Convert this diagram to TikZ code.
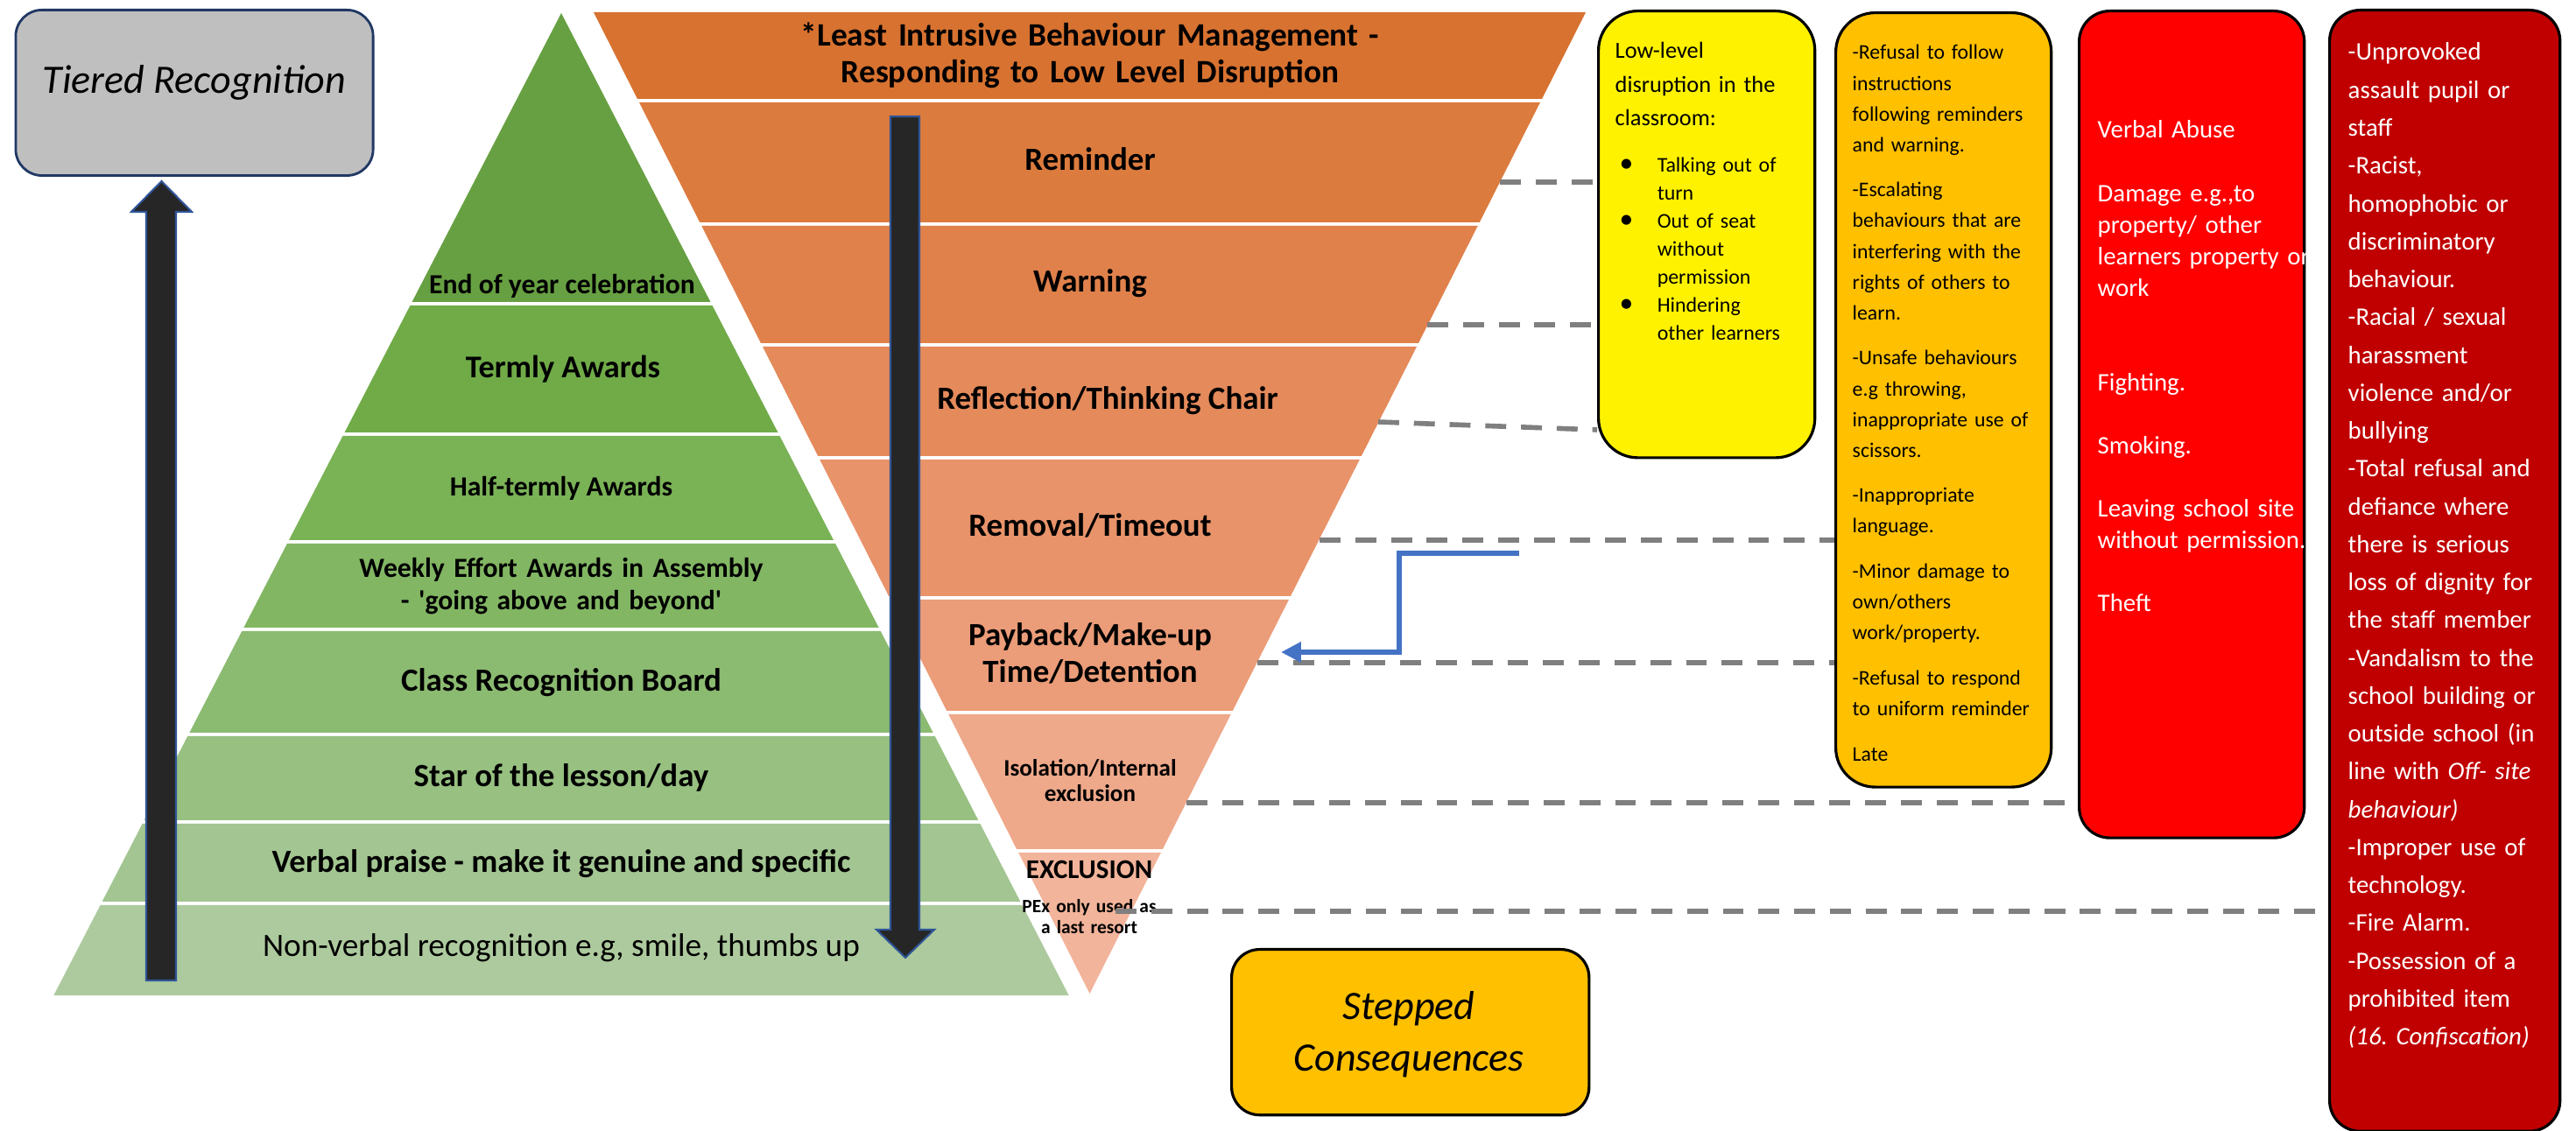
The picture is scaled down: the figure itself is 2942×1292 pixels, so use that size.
\documentclass[tikz,border=0pt]{standalone}
\usepackage{fontspec}
\setmainfont{Carlito}
\usetikzlibrary{arrows.meta}

% pyramid shades, darkest at the top
\definecolor{gA}{HTML}{67A042}
\definecolor{gB}{HTML}{70AB48}
\definecolor{gC}{HTML}{7AB256}
\definecolor{gD}{HTML}{82B663}
\definecolor{gE}{HTML}{8BBA71}
\definecolor{gF}{HTML}{97C081}
\definecolor{gG}{HTML}{A2C591}
\definecolor{gH}{HTML}{ADCA9E}
\definecolor{oA}{HTML}{D87230}
\definecolor{oB}{HTML}{DC7B3E}
\definecolor{oC}{HTML}{E0814B}
\definecolor{oD}{HTML}{E48A5B}
\definecolor{oE}{HTML}{E8936A}
\definecolor{oF}{HTML}{EB9C78}
\definecolor{oG}{HTML}{EEA88A}
\definecolor{oH}{HTML}{F2B49B}
\definecolor{recoggray}{HTML}{BFBFBF}
\definecolor{recogedge}{HTML}{203864}
\definecolor{arrowfill}{HTML}{262626}
\definecolor{arrowedge}{HTML}{2F5597}
\definecolor{dashgray}{HTML}{7F7F7F}
\definecolor{linkblue}{HTML}{4472C4}
\definecolor{amber}{HTML}{FFC000}
\definecolor{extremered}{HTML}{C00000}

\newcommand{\bulletline}[1]{\makebox[0.43cm][l]{{\fontsize{9}{9}\selectfont\textbullet}}#1}
\newcommand{\bulletcont}[1]{\hspace*{0.43cm}#1}
\frenchspacing

\begin{document}
\begin{tikzpicture}[x=0.01cm, y=-0.01cm,
    ruleframe/.style={draw=black, line width=0.9pt, rounded corners=0.45cm, inner sep=0pt, anchor=north west},
    ruletext/.style={inner sep=0pt, anchor=base west, text width=3cm, align=left},
    layerlabel/.style={inner sep=0pt, anchor=base},
    blockarrow/.style={fill=arrowfill, draw=arrowedge, line width=0.6pt},
    dashlink/.style={draw=dashgray, line width=1.6pt, dash pattern=on 6.8pt off 4.8pt},
    linkarrow/.style={draw=linkblue, line width=1.7pt, -{Triangle[length=6.5pt, width=6.3pt]}}]
    \useasboundingbox (0,0) rectangle (2942,1292);
    \fill[white] (0,0) rectangle (2942,1292);

    % Recognition pyramid
    \foreach \ytop/\ybot/\col in {15/345/gA, 349/494/gB, 498/617/gC, 621/717/gD, 721/837/gE, 841/937/gF, 941/1030/gG, 1034/1137/gH}
        \fill[\col] ({641-0.5166*(\ytop-15)},\ytop) -- ({641+0.5166*(\ytop-15)},\ytop)
            -- ({641+0.5166*(\ybot-15)},\ybot) -- ({641-0.5166*(\ybot-15)},\ybot) -- cycle;

    % Consequences funnel
    \foreach \ytop/\ybot/\col in {14/113/oA, 117/254/oB, 258/392/oC, 396/521/oD, 525/681/oE, 685/812/oF, 816/970/oG, 974/1135/oH}
        \fill[\col] ({1244.5-0.5054*(1135-\ytop)},\ytop) -- ({1244.5+0.5054*(1135-\ytop)},\ytop)
            -- ({1244.5+0.5054*(1135-\ybot)},\ybot) -- ({1244.5-0.5054*(1135-\ybot)},\ybot) -- cycle;

    \node[layerlabel, font=\fontsize{9}{10.2}\selectfont\bfseries] (endyear) at (642,336) {End of year celebration};
    \node[layerlabel, font=\fontsize{10.3}{12}\selectfont\bfseries] (termly) at (643,432) {Termly Awards};
    \node[layerlabel, font=\fontsize{9}{10.2}\selectfont\bfseries] (halftermly) at (641,567) {Half-termly Awards};
    \node[layerlabel, text width=6cm, align=center, font=\fontsize{9}{10.24}\selectfont\bfseries] (weekly) at (641,660)
        {Weekly Effort Awards in Assembly\\- \textquotesingle going above and beyond\textquotesingle};
    \node[layerlabel, font=\fontsize{10.5}{12}\selectfont\bfseries] (classboard) at (641,790) {Class Recognition Board};
    \node[layerlabel, font=\fontsize{10.5}{12}\selectfont\bfseries] (starday) at (641,899) {Star of the lesson/day};
    \node[layerlabel, font=\fontsize{10.5}{12}\selectfont\bfseries] (verbal) at (641,997) {Verbal praise - make it genuine and specific};
    \node[layerlabel, font=\fontsize{10.6}{12}\selectfont] (nonverbal) at (641,1093) {Non-verbal recognition e.g, smile, thumbs up};

    \node[layerlabel, text width=7cm, align=center, font=\fontsize{10.6}{11.9}\selectfont\bfseries] (lim) at (1245,53)
        {*Least Intrusive Behaviour Management -\\Responding to Low Level Disruption};
    \node[layerlabel, font=\fontsize{10.5}{12}\selectfont\bfseries] (reminder) at (1245,195) {Reminder};
    \node[layerlabel, font=\fontsize{10.5}{12}\selectfont\bfseries] (warning) at (1245,334) {Warning};
    \node[layerlabel, font=\fontsize{10.5}{12}\selectfont\bfseries] (reflection) at (1265,468) {Reflection/Thinking Chair};
    \node[layerlabel, font=\fontsize{10.5}{12}\selectfont\bfseries] (removal) at (1245,613) {Removal/Timeout};
    \node[layerlabel, text width=3.5cm, align=center, font=\fontsize{10.5}{11.9}\selectfont\bfseries] (payback) at (1245,738)
        {Payback/Make-up\\Time/Detention};
    \node[layerlabel, text width=2.5cm, align=center, font=\fontsize{7.7}{8}\selectfont\bfseries] (isolation) at (1245,887)
        {Isolation/Internal\\exclusion};
    \node[layerlabel, font=\fontsize{8.8}{10}\selectfont\bfseries] (exclusion) at (1244,1004) {EXCLUSION};
    \node[layerlabel, text width=2cm, align=center, font=\fontsize{6.1}{6.8}\selectfont\bfseries] (pex) at (1244,1043)
        {PEx only used as\\a last resort};

    % block arrows
    \path[blockarrow] (167,1120) -- (167,242) -- (150,242) -- (184.5,207) -- (219,242) -- (201,242) -- (201,1120) -- cycle;
    \path[blockarrow] (1017,133) -- (1050,133) -- (1050,1062) -- (1067,1062) -- (1034,1094) -- (1001,1062) -- (1017,1062) -- cycle;

    % titles
    \node[draw=recogedge, fill=recoggray, line width=0.8pt, rounded corners=0.3cm, minimum width=4.08cm, minimum height=1.89cm,
        inner sep=0pt, anchor=north west] (tiered) at (16.5,10) {};
    \node[layerlabel, font=\fontsize{13.1}{16.5}\selectfont\itshape] (tieredtext) at (222,107) {Tiered Recognition};
    \node[ruleframe, fill=amber, rounded corners=0.32cm, minimum width=4.08cm, minimum height=1.89cm] (stepped) at (1405,1083) {};
    \node[layerlabel, text width=4cm, align=center, font=\fontsize{13.1}{16.5}\selectfont\itshape] (steppedtext) at (1609,1165)
        {Stepped\\Consequences};

    % behaviour boxes
    \node[ruleframe, fill=yellow, minimum width=2.47cm, minimum height=5.1cm] (lowlevel) at (1824,11) {};
    \node[ruleframe, fill=amber, minimum width=2.46cm, minimum height=8.84cm] (moderate) at (2095,13) {};
    \node[ruleframe, fill=red, rounded corners=0.35cm, minimum width=2.57cm, minimum height=9.44cm] (serious) at (2373,11) {};
    \node[ruleframe, fill=extremered, rounded corners=0.35cm, minimum width=2.63cm, minimum height=12.8cm] (extreme) at (2659,10) {};

    \node[ruletext, font=\fontsize{7.5}{10.9}\selectfont] (lowleveltext) at (1844,67)
        {Low-level\\disruption in the\\classroom:};
    \node[ruletext, font=\fontsize{6.8}{9.1}\selectfont] (lowlevellist) at (1849,197)
        {\bulletline{Talking out of}\\\bulletcont{turn}\\\bulletline{Out of seat}\\\bulletcont{without}\\\bulletcont{permission}\\\bulletline{Hindering}\\\bulletcont{other learners}};
    \node[ruletext, font=\fontsize{6.75}{9.96}\selectfont] (moderatetext) at (2115,68)
        {-Refusal to follow\\instructions\\following reminders\\and warning.\\[4.8pt]
        -Escalating\\behaviours that are\\interfering with the\\rights of others to\\learn.\\[4.8pt]
        -Unsafe behaviours\\e.g throwing,\\inappropriate use of\\scissors.\\[4.8pt]
        -Inappropriate\\language.\\[4.8pt]
        -Minor damage to\\own/others\\work/property.\\[4.8pt]
        -Refusal to respond\\to uniform reminder\\[4.8pt]
        Late};
    \node[ruletext, text=white, font=\fontsize{8.2}{10.24}\selectfont] (serioustext) at (2395,158)
        {Verbal Abuse\\[10.24pt]
        Damage e.g.,to\\property/ other\\learners property or\\work\\[20.48pt]
        Fighting.\\[10.24pt]
        Smoking.\\[10.24pt]
        Leaving school site\\without permission.\\[10.24pt]
        Theft};
    \node[ruletext, text=white, font=\fontsize{8.2}{12.3}\selectfont] (extremetext) at (2681,69)
        {-Unprovoked\\assault pupil or\\staff\\-Racist,\\homophobic or\\discriminatory\\behaviour.\\
        -Racial / sexual\\harassment\\violence and/or\\bullying\\
        -Total refusal and\\defiance where\\there is serious\\loss of dignity for\\the staff member\\
        -Vandalism to the\\school building or\\outside school (in\\line with \textit{Off- site}\\\textit{behaviour)}\\
        -Improper use of\\technology.\\-Fire Alarm.\\-Possession of a\\prohibited item\\\textit{(16. Confiscation)}};

    % dashed links from the funnel to the boxes
    \coordinate (dreminder) at (1713,208);
    \coordinate (dwarning) at (1630,371);
    \coordinate (dreflection) at (1574,482);
    \coordinate (dremoval) at (1507,617);
    \coordinate (dpayback) at (1436,757);
    \coordinate (disolation) at (1355,917);
    \coordinate (dexclusion) at (1274,1041);
    \draw[dashlink] (dreminder) -- (dreminder -| lowlevel.west);
    \draw[dashlink] (dwarning) -- (dwarning -| lowlevel.west);
    \draw[dashlink] (dreflection) -- (lowlevel.west |- 0,491);
    \draw[dashlink] (dremoval) -- (dremoval -| moderate.west);
    \draw[dashlink] (dpayback) -- (dpayback -| moderate.west);
    \draw[dashlink] (disolation) -- (disolation -| serious.west);
    \draw[dashlink] (dexclusion) -- (dexclusion -| extreme.west);

    % elbow arrow back to payback
    \coordinate (linkstart) at (1735,632);
    \coordinate (linkend) at (1463,745);
    \draw[linkarrow] (linkstart) -- ++(-137,0) |- (linkend);
\end{tikzpicture}
\end{document}
